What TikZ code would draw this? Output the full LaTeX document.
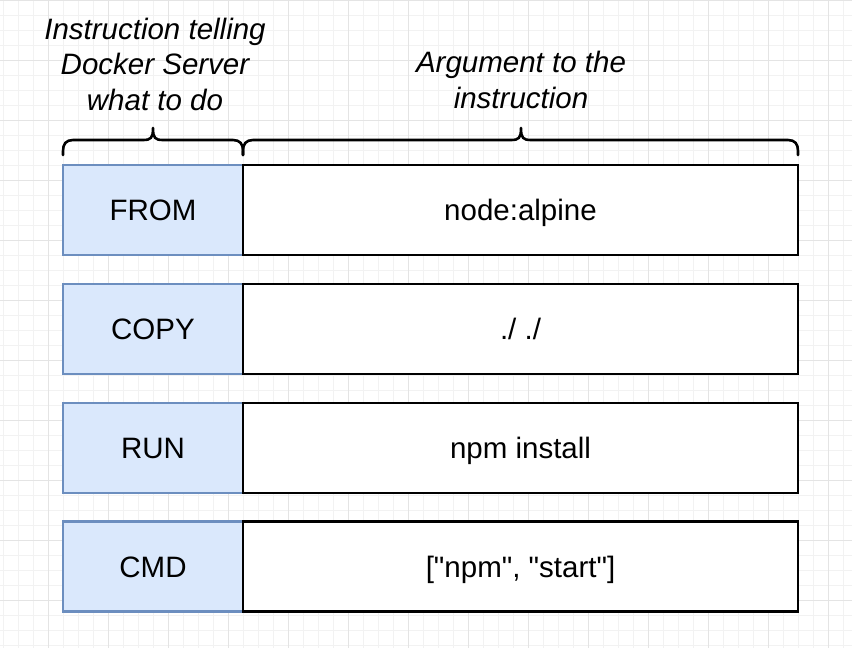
\documentclass[tikz,border=0pt]{standalone}
\usepackage{fontspec}
\setmainfont{Liberation Sans}[Ligatures=TeXOff]
\definecolor{instrfill}{HTML}{DAE8FC}
\definecolor{instrborder}{HTML}{6C8EBF}
\definecolor{minorgrid}{HTML}{F2F2F2}
\definecolor{majorgrid}{HTML}{E4E4E4}
\begin{document}
\begin{tikzpicture}[x=1pt,y=-1pt,
  minorline/.style={draw=minorgrid,line width=1pt},
  majorline/.style={draw=majorgrid,line width=1pt},
  rowbox/.style={line width=2.6pt,minimum height=90pt,inner sep=0pt,text height=21.2pt,text depth=0pt,font=\fontsize{29.5}{35}\selectfont},
  instr/.style={rowbox,draw=instrborder,fill=instrfill,minimum width=180pt},
  arg/.style={rowbox,draw=black,fill=white,minimum width=555pt},
  bracestyle/.style={draw=black,line width=2.6pt,line cap=round,line join=round},
  toplabel/.style={align=center,inner sep=0pt,font=\fontsize{29.5}{35.5}\selectfont\itshape}
]
\useasboundingbox (0,0) rectangle (852,648);
\fill[white] (0,0) rectangle (852,648);
\foreach \x in {3,18,...,852} \draw[minorline] (\x,0) -- (\x,648);
\foreach \y in {15,30,...,648} \draw[minorline] (0,\y) -- (852,\y);
\foreach \x in {48,108,...,852} \draw[majorline] (\x,0) -- (\x,648);
\foreach \y in {0,60,...,648} \draw[majorline] (0,\y) -- (852,\y);

% rows
\node[instr] (from) at (153,210) {FROM};
\node[arg] (fromarg) at (520.5,210) {node:alpine};
\node[instr] (copy) at (153,329) {COPY};
\node[arg] (copyarg) at (520.5,329) {./ ./};
\node[instr] (run) at (153,448) {RUN};
\node[arg] (runarg) at (520.5,448) {npm install};
\node[instr] (cmd) at (153,566.5) {CMD};
\node[arg] (cmdarg) at (520.5,566.5) {["npm", "start"]};

% braces
\draw[bracestyle] (63,155) -- (63,151) .. controls (63,144) and (66,140) .. (73,140) -- (143,140)
  .. controls (151,140) and (153,138) .. (153,128) .. controls (153,138) and (155,140) .. (163,140)
  -- (233,140) .. controls (240,140) and (243,144) .. (243,151) -- (243,155);
\draw[bracestyle] (243,155) -- (243,151) .. controls (243,144) and (246,140) .. (253,140) -- (511,140)
  .. controls (519,140) and (521,138) .. (521,128) .. controls (521,138) and (523,140) .. (531,140)
  -- (788,140) .. controls (795,140) and (798,144) .. (798,151) -- (798,155);

% labels
\node[toplabel] (instrlabel) at (155,64) {Instruction telling\\Docker Server\\what to do};
\node[toplabel] (arglabel) at (521,80) {Argument to the\\instruction};
\end{tikzpicture}
\end{document}
